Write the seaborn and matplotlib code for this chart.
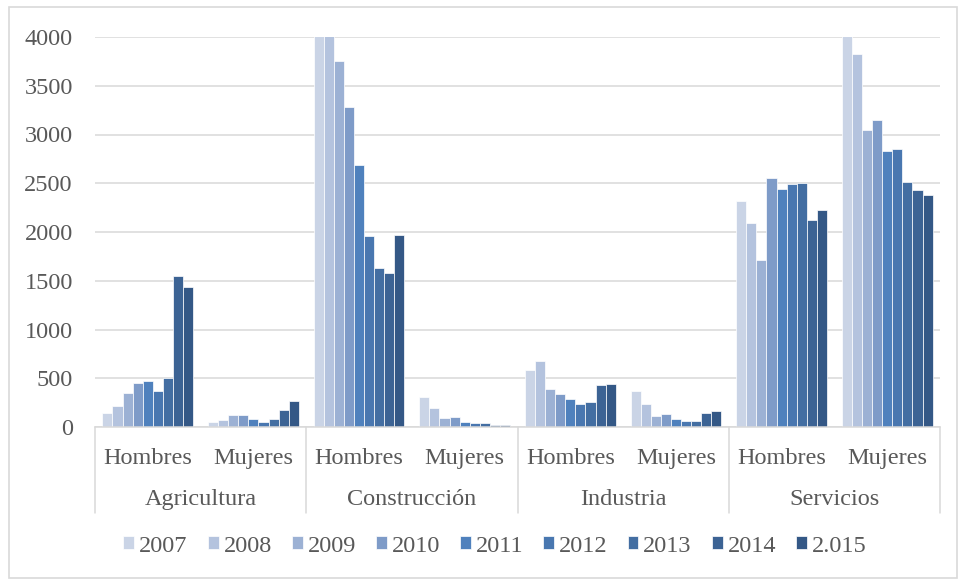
import numpy as np
import pandas as pd
import matplotlib
matplotlib.use("Agg")
import matplotlib.pyplot as plt
from matplotlib.patches import Rectangle
import seaborn as sns

# ─── DATA ─────────────────────────────────────────────────
sectors = ["Agricultura", "Construcción", "Industria", "Servicios"]
genders = ["Hombres", "Mujeres"]
years = ["2007", "2008", "2009", "2010", "2011", "2012", "2013", "2014", "2.015"]

agri_h = [140, 220, 350, 450, 470, 365, 500, 1550, 1436]
agri_m = [56, 74, 128, 121, 80, 49, 80, 178, 270]
cons_h = [4600, 4300, 3750, 3285, 2688, 1960, 1628, 1577, 1966]
cons_m = [305, 193, 97, 104, 56, 43, 36, 22, 22]
indu_h = [586, 675, 391, 340, 285, 234, 258, 432, 443]
indu_m = [371, 241, 114, 135, 87, 63, 63, 142, 166]
serv_h = [2320, 2090, 1714, 2552, 2439, 2494, 2504, 2125, 2227]
serv_m = [4200, 3827, 3048, 3150, 2832, 2853, 2511, 2426, 2381]

colors = ["#CAD4E6", "#B4C3DE", "#9CB1D4", "#7E9BC8", "#4F81BD",
          "#4977B0", "#436EA2", "#3C6394", "#345886"]

series = [agri_h, agri_m, cons_h, cons_m, indu_h, indu_m, serv_h, serv_m]
groups = [f"{s}|{g}" for s in sectors for g in genders]

rows = []
for grp, vals in zip(groups, series):
    for yr, v in zip(years, vals):
        rows.append({"grupo": grp, "anio": yr, "valor": v})
df = pd.DataFrame(rows)

# ─── STYLE ────────────────────────────────────────────────
sns.set_theme(style="white")
plt.rcParams["font.family"] = ["Liberation Serif", "DejaVu Serif"]
TXT = "#595959"
GRID = "#D9D9D9"
FS = 17.5

fig = plt.figure(figsize=(9.6, 5.81), dpi=100)
ax = fig.add_axes([95 / 960, 1 - 427 / 581, 845 / 960, 390 / 581])

sns.barplot(data=df, x="grupo", y="valor", hue="anio", order=groups,
            hue_order=years, palette=colors, width=0.86, gap=0.0,
            edgecolor="white", linewidth=0.5, saturation=1,
            errorbar=None, ax=ax, legend=True)

ax.set_ylim(0, 4000)
ax.set_xlim(-0.5, len(groups) - 0.5)
ax.set_yticks(np.arange(0, 4001, 500))
ax.yaxis.grid(True, color=GRID, linewidth=1.1)
ax.set_axisbelow(True)
for sp in ["left", "right", "top"]:
    ax.spines[sp].set_visible(False)
ax.spines["bottom"].set_color(GRID)
ax.spines["bottom"].set_linewidth(1.1)
ax.tick_params(axis="y", length=0, pad=16, labelsize=FS, labelcolor=TXT)
ax.set_xticks([])
ax.set_xlabel("")
ax.set_ylabel("")

# two-level category axis
trans = ax.get_xaxis_transform()
for i, grp in enumerate(groups):
    ax.text(i, -0.08, grp.split("|")[1], transform=trans, ha="center",
            va="center", fontsize=FS, color=TXT)
for j, s in enumerate(sectors):
    ax.text(2 * j + 0.5, -0.186, s, transform=trans, ha="center",
            va="center", fontsize=FS, color=TXT)
for xb in np.arange(-0.5, len(groups), 2):
    ax.plot([xb, xb], [0, -0.22], transform=trans, color=GRID,
            linewidth=1.1, clip_on=False)

# legend
handles, labels = ax.get_legend_handles_labels()
ax.get_legend().remove()
fig.legend(handles, labels, loc="center", bbox_to_anchor=(495 / 960, 1 - 546 / 581),
           ncol=len(years), frameon=False, fontsize=FS, labelcolor=TXT,
           handlelength=0.45, handleheight=0.45, handletextpad=0.2,
           columnspacing=0.82, borderpad=0)

# chart border
fig.patches.append(Rectangle((9 / 960, 3 / 581), 948 / 960, 571 / 581,
                             transform=fig.transFigure, fill=False,
                             edgecolor=GRID, linewidth=1.2))

plt.savefig("out.png", dpi=100)
plt.close()
